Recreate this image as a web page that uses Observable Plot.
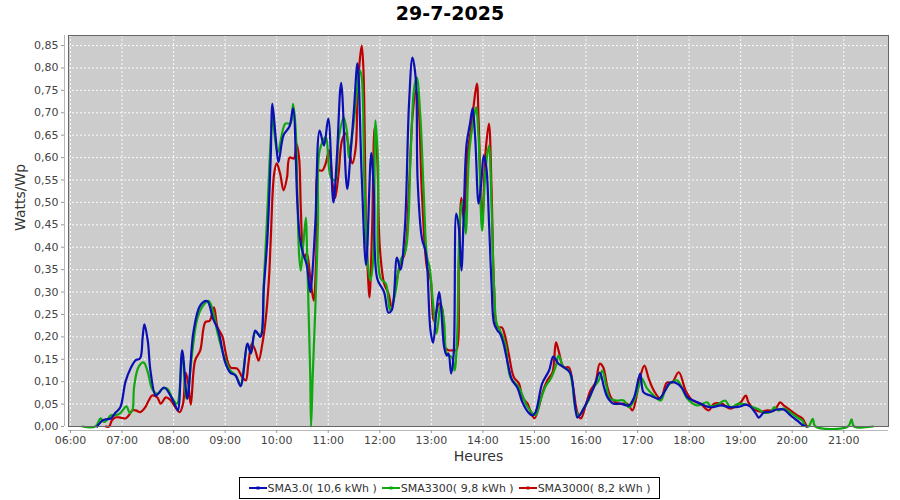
<!DOCTYPE html>
<html>
<head>
<meta charset="utf-8">
<script src="https://cdn.jsdelivr.net/npm/d3@7"></script>
<script src="https://cdn.jsdelivr.net/npm/@observablehq/plot@0.6"></script>
<style>
  html, body { margin: 0; padding: 0; background: #fff; }
  body { width: 900px; height: 500px; position: relative; overflow: hidden; font-family: "DejaVu Sans", sans-serif; }
  #title { position: absolute; top: 2px; left: 0; width: 900px; text-align: center; font: bold 19px "DejaVu Sans", sans-serif; color: #000; }
  #chart { position: absolute; top: 30px; left: 0; }
  #legend { position: absolute; left: 239px; top: 477px; width: 419px; height: 20px; border: 1px solid #000; display: flex; align-items: center; justify-content: center; gap: 5px; font: 11px "DejaVu Sans", sans-serif; color: #333; white-space: nowrap; }
  .item { display: flex; align-items: center; gap: 1px; }
</style>
</head>
<body>
<div id="title">29-7-2025</div>
<div id="chart"></div>
<div id="legend"></div>
<script>
const chartTitle = "29-7-2025";
const seriesNames = ["SMA3.0( 10,6 kWh )", "SMA3300( 9,8 kWh )", "SMA3000( 8,2 kWh )"];
const seriesColors = ["#0a10b4", "#10a810", "#c00000"];
const xTickHours = [6,7,8,9,10,11,12,13,14,15,16,17,18,19,20,21];
const yTicks = d3.range(0, 0.851, 0.05);

// SMA3.0 (blue) [time, W/Wp]
const sma30 = [
["6:31",0],["6:37",0.013],["6:41",0.016],["6:47",0.018],["6:52",0.03],["6:58",0.043],["7:04",0.10],["7:10",0.13],
["7:16",0.148],["7:21",0.152],["7:24",0.20],["7:26",0.228],["7:30",0.19],["7:33",0.125],["7:39",0.069],["7:42",0.073],
["7:49",0.087],["7:56",0.07],["8:02",0.047],["8:05",0.036],["8:10",0.17],["8:16",0.062],["8:23",0.21],["8:31",0.27],
["8:39",0.28],["8:46",0.24],["8:52",0.214],["9:00",0.143],["9:06",0.12],["9:12",0.114],["9:18",0.09],["9:26",0.185],
["9:30",0.163],["9:35",0.214],["9:41",0.2],["9:45",0.31],["9:49",0.415],["9:53",0.60],["9:55",0.72],["9:59",0.64],
["10:02",0.59],["10:08",0.65],["10:15",0.67],["10:19",0.71],["10:24",0.50],["10:27",0.42],["10:30",0.39],["10:35",0.36],
["10:39",0.30],["10:41",0.33],["10:45",0.455],["10:50",0.66],["10:55",0.627],["11:00",0.687],["11:06",0.50],["11:10",0.60],
["11:15",0.767],["11:22",0.53],["11:26",0.61],["11:30",0.71],["11:34",0.81],["11:39",0.555],["11:44",0.36],["11:50",0.61],
["11:53",0.527],["11:57",0.33],["12:05",0.30],["12:10",0.254],["12:14",0.26],["12:20",0.377],["12:24",0.35],["12:29",0.437],
["12:34",0.72],["12:38",0.823],["12:42",0.772],["12:44",0.55],["12:49",0.42],["12:53",0.393],["12:55",0.363],["12:59",0.214],
["13:02",0.187],["13:06",0.259],["13:09",0.30],["13:11",0.274],["13:15",0.176],["13:18",0.158],["13:20",0.163],["13:23",0.118],
["13:26",0.163],["13:29",0.475],["13:32",0.444],["13:35",0.348],["13:38",0.497],["13:41",0.63],["13:45",0.676],["13:48",0.71],
["13:51",0.645],["13:55",0.497],["13:58",0.542],["14:01",0.605],["14:04",0.578],["14:07",0.46],["14:10",0.32],["14:13",0.23],
["14:17",0.214],["14:20",0.207],["14:24",0.185],["14:29",0.14],["14:34",0.103],["14:40",0.087],["14:46",0.054],["14:53",0.031],
["14:57",0.025],["15:01",0.031],["15:09",0.096],["15:17",0.125],["15:22",0.156],["15:28",0.14],["15:36",0.13],["15:42",0.118],
["15:47",0.051],["15:50",0.02],["15:54",0.029],["16:01",0.054],["16:09",0.087],["16:16",0.12],["16:21",0.087],["16:25",0.065],
["16:32",0.051],["16:40",0.051],["16:50",0.047],["16:56",0.065],["17:03",0.118],["17:07",0.076],["17:15",0.069],["17:25",0.062],
["17:32",0.08],["17:38",0.098],["17:46",0.096],["17:52",0.085],["17:58",0.065],["18:05",0.058],["18:13",0.051],["18:25",0.043],
["18:37",0.047],["18:48",0.043],["19:00",0.045],["19:06",0.049],["19:11",0.045],["19:17",0.031],["19:21",0.02],["19:27",0.031],
["19:35",0.033],["19:42",0.038],["19:50",0.038],["19:58",0.025],["20:06",0.013],["20:13",0.002],["20:17",0]
];

// SMA3300 (green)
const sma3300 = [
["6:14",0],["6:29",0],["6:35",0.018],["6:39",0.01],["6:43",0.016],["6:47",0.025],["6:52",0.025],["6:58",0.03],
["7:05",0.045],["7:09",0.03],["7:12",0.036],["7:14",0.088],["7:19",0.132],["7:25",0.143],["7:30",0.121],["7:35",0.084],
["7:41",0.073],["7:47",0.084],["7:53",0.084],["7:58",0.065],["8:04",0.051],["8:10",0.158],["8:15",0.062],["8:22",0.17],
["8:27",0.236],["8:33",0.266],["8:41",0.28],["8:47",0.248],["8:51",0.21],["9:00",0.15],["9:06",0.125],["9:12",0.115],
["9:18",0.095],["9:26",0.18],["9:30",0.165],["9:35",0.21],["9:41",0.205],["9:45",0.32],["9:49",0.475],["9:53",0.64],
["9:55",0.69],["10:01",0.61],["10:10",0.676],["10:16",0.676],["10:19",0.72],["10:22",0.667],["10:24",0.527],["10:26",0.386],
["10:28",0.348],["10:31",0.408],["10:34",0.466],["10:35",0.415],["10:37",0.266],["10:39",0.118],["10:40",0],["10:42",0.118],
["10:45",0.266],["10:48",0.45],["10:50",0.616],["10:57",0.645],["11:03",0.556],["11:08",0.55],["11:12",0.64],["11:18",0.69],
["11:22",0.654],["11:24",0.6],["11:29",0.667],["11:37",0.794],["11:39",0.779],["11:42",0.55],["11:46",0.364],["11:49",0.326],
["11:52",0.364],["11:55",0.683],["11:58",0.587],["12:01",0.33],["12:07",0.319],["12:12",0.259],["12:18",0.297],["12:24",0.37],
["12:30",0.393],["12:36",0.616],["12:40",0.756],["12:43",0.779],["12:47",0.698],["12:51",0.527],["12:55",0.377],["12:58",0.355],
["13:02",0.274],["13:06",0.207],["13:11",0.274],["13:15",0.23],["13:18",0.163],["13:24",0.154],["13:27",0.125],["13:30",0.2],
["13:34",0.482],["13:37",0.504],["13:40",0.43],["13:44",0.61],["13:49",0.683],["13:52",0.712],["13:55",0.645],["13:59",0.437],
["14:03",0.571],["14:07",0.627],["14:10",0.497],["14:13",0.31],["14:16",0.23],["14:20",0.214],["14:26",0.185],["14:32",0.11],
["14:42",0.087],["14:50",0.051],["14:55",0.036],["15:01",0.025],["15:07",0.058],["15:13",0.09],["15:19",0.107],["15:25",0.136],
["15:28",0.158],["15:34",0.132],["15:40",0.125],["15:44",0.096],["15:48",0.036],["15:52",0.025],["15:57",0.04],["16:03",0.058],
["16:09",0.087],["16:15",0.103],["16:19",0.125],["16:23",0.096],["16:28",0.062],["16:36",0.058],["16:44",0.058],["16:50",0.043],
["16:56",0.058],["17:01",0.087],["17:05",0.107],["17:11",0.085],["17:19",0.069],["17:27",0.058],["17:32",0.08],["17:38",0.096],
["17:46",0.103],["17:58",0.062],["18:09",0.047],["18:21",0.054],["18:25",0.045],["18:33",0.049],["18:42",0.058],["18:48",0.043],
["18:58",0.051],["19:06",0.049],["19:15",0.043],["19:21",0.038],["19:27",0.031],["19:35",0.033],["19:39",0.043],["19:44",0.036],
["19:50",0.04],["19:58",0.031],["20:06",0.02],["20:12",0.013],["20:15",0.002],["20:19",0],["20:24",0.017],["20:27",0],
["21:05",0],["21:09",0.016],["21:12",0],["21:34",0]
];

// SMA3000 (red)
const sma3000 = [
["6:41",0],["6:45",0],["6:48",0.013],["6:52",0.02],["6:58",0.02],["7:04",0.018],["7:08",0.025],["7:12",0.036],
["7:16",0.036],["7:21",0.032],["7:27",0.043],["7:31",0.058],["7:35",0.069],["7:41",0.065],["7:45",0.051],["7:51",0.065],
["7:56",0.06],["8:02",0.043],["8:07",0.032],["8:11",0.051],["8:14",0.12],["8:17",0.096],["8:20",0.049],["8:25",0.147],
["8:31",0.17],["8:37",0.233],["8:42",0.236],["8:47",0.266],["8:51",0.222],["8:57",0.2],["9:00",0.17],["9:06",0.132],
["9:14",0.129],["9:20",0.11],["9:24",0.103],["9:27",0.14],["9:31",0.185],["9:35",0.17],["9:39",0.147],["9:43",0.181],
["9:47",0.236],["9:51",0.33],["9:53",0.415],["9:57",0.564],["10:00",0.587],["10:04",0.564],["10:08",0.527],["10:12",0.556],
["10:15",0.6],["10:20",0.598],["10:23",0.631],["10:26",0.6],["10:28",0.489],["10:30",0.4],["10:32",0.377],["10:35",0.386],
["10:39",0.333],["10:43",0.281],["10:46",0.377],["10:49",0.571],["10:53",0.571],["10:57",0.587],["11:01",0.616],["11:05",0.542],
["11:08",0.51],["11:12",0.564],["11:16",0.638],["11:20",0.654],["11:28",0.587],["11:32",0.623],["11:34",0.734],["11:37",0.823],
["11:39",0.85],["11:41",0.794],["11:44",0.453],["11:47",0.31],["11:48",0.288],["11:51",0.437],["11:54",0.667],["11:57",0.6],
["12:00",0.4],["12:05",0.319],["12:10",0.297],["12:14",0.266],["12:19",0.319],["12:24",0.364],["12:29",0.386],["12:34",0.533],
["12:38",0.69],["12:42",0.75],["12:45",0.716],["12:49",0.52],["12:55",0.353],["12:59",0.33],["13:03",0.236],["13:09",0.274],
["13:13",0.259],["13:16",0.176],["13:20",0.17],["13:26",0.17],["13:29",0.17],["13:32",0.364],["13:35",0.51],["13:38",0.46],
["13:42",0.61],["13:46",0.66],["13:49",0.712],["13:53",0.765],["13:55",0.683],["13:59",0.453],["14:03",0.61],["14:07",0.676],
["14:10",0.533],["14:13",0.31],["14:17",0.221],["14:22",0.221],["14:26",0.2],["14:30",0.163],["14:36",0.11],["14:42",0.096],
["14:46",0.065],["14:52",0.051],["14:55",0.036],["15:00",0.018],["15:05",0.043],["15:09",0.073],["15:15",0.103],["15:21",0.121],
["15:25",0.188],["15:28",0.17],["15:34",0.132],["15:40",0.132],["15:45",0.087],["15:50",0.031],["15:54",0.018],["15:59",0.043],
["16:05",0.08],["16:11",0.098],["16:16",0.14],["16:20",0.132],["16:25",0.087],["16:30",0.062],["16:38",0.051],["16:48",0.051],
["16:54",0.036],["17:00",0.08],["17:03",0.11],["17:08",0.136],["17:13",0.107],["17:19",0.08],["17:27",0.062],["17:34",0.098],
["17:40",0.098],["17:48",0.121],["17:56",0.08],["18:04",0.058],["18:13",0.051],["18:23",0.036],["18:29",0.051],["18:38",0.051],
["18:48",0.04],["19:00",0.054],["19:06",0.069],["19:09",0.054],["19:15",0.04],["19:23",0.033],["19:31",0.036],["19:39",0.036],
["19:46",0.054],["19:50",0.047],["19:58",0.036],["20:06",0.025],["20:12",0.018],["20:15",0.007],["20:17",0]
];

const toHours = s => { const [h, m] = s.split(":").map(Number); return h + m / 60; };
const rows = (arr, name) => arr.map(([t, v]) => ({ t: toHours(t), v, name }));
const data = [
  ...rows(sma3000, seriesNames[2]),
  ...rows(sma3300, seriesNames[1]),
  ...rows(sma30, seriesNames[0])
];
const fmtY = d => d3.format(".2f")(d).replace(".", ",");
const fmtX = d => String(d).padStart(2, "0") + ":00";
const xDomain = [5.961, 21.868];

const chart = Plot.plot({
  width: 900,
  height: 440,
  marginLeft: 68,
  marginRight: 12,
  marginTop: 5,
  marginBottom: 44,
  style: { fontFamily: "DejaVu Sans, sans-serif", fontSize: "11px", color: "#444", background: "transparent" },
  x: { domain: xDomain, axis: null },
  y: { domain: [0, 0.8724], axis: null },
  color: { domain: seriesNames, range: seriesColors },
  marks: [
    Plot.frame({ fill: "#cccccc", stroke: null }),
    Plot.gridX(xTickHours, { stroke: "#ffffff", strokeOpacity: 0.9, strokeDasharray: "2,2" }),
    Plot.gridY(yTicks, { stroke: "#ffffff", strokeOpacity: 0.9, strokeDasharray: "2,2" }),
    Plot.line(data, { x: "t", y: "v", z: "name", stroke: "name", strokeWidth: 2.2, curve: "catmull-rom" }),
    Plot.frame({ stroke: "#666666", strokeWidth: 1 }),
    Plot.ruleX([xDomain[0]], { dx: -4, stroke: "#b8b8b8" }),
    Plot.ruleY([0], { dy: 4, stroke: "#b8b8b8" }),
    Plot.axisY(yTicks, { anchor: "left", tickSize: 3, tickPadding: 3, dx: -4, tickFormat: fmtY, stroke: "#999", fill: "#444", label: null }),
    Plot.axisX(xTickHours, { anchor: "bottom", tickSize: 3, tickPadding: 3, dy: 4, tickFormat: fmtX, stroke: "#999", fill: "#444", label: null }),
    Plot.text(["Heures"], { frameAnchor: "bottom", dy: 34, text: d => d, fontSize: 14, fill: "#333" }),
    Plot.text(["Watts/Wp"], { frameAnchor: "left", dx: -48, rotate: -90, text: d => d, fontSize: 14, fill: "#333" })
  ]
});
document.getElementById("chart").appendChild(chart);
document.getElementById("title").textContent = chartTitle;

const legend = document.getElementById("legend");
seriesNames.forEach((name, i) => {
  const item = document.createElement("div");
  item.className = "item";
  item.innerHTML = `<svg width="18" height="10"><line x1="0" y1="5" x2="18" y2="5" stroke="${seriesColors[i]}" stroke-width="2"/><rect x="7.5" y="3.5" width="3" height="3" fill="${seriesColors[i]}"/></svg><span>${name}</span>`;
  legend.appendChild(item);
});
</script>
</body>
</html>
